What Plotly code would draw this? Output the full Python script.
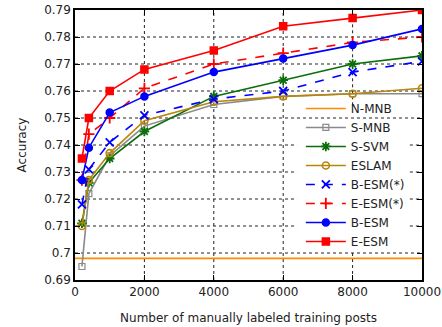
import plotly.graph_objects as go

x = [200, 400, 1000, 2000, 4000, 6000, 8000, 10000]
n_mnb_x = [0, 10000]
n_mnb = [0.698, 0.698]
s_mnb = [0.695, 0.722, 0.736, 0.747, 0.755, 0.758, 0.759, 0.759]
s_svm = [0.711, 0.726, 0.735, 0.745, 0.758, 0.764, 0.770, 0.773]
eslam = [0.710, 0.727, 0.737, 0.749, 0.756, 0.758, 0.759, 0.761]
b_esm_star = [0.718, 0.731, 0.741, 0.751, 0.757, 0.760, 0.767, 0.771]
e_esm_star = [0.727, 0.744, 0.750, 0.761, 0.770, 0.774, 0.778, 0.780]
b_esm = [0.727, 0.739, 0.752, 0.758, 0.767, 0.772, 0.777, 0.783]
e_esm = [0.735, 0.750, 0.760, 0.768, 0.775, 0.784, 0.787, 0.790]

x_ticks = [0, 2000, 4000, 6000, 8000, 10000]
y_ticks = [0.69, 0.70, 0.71, 0.72, 0.73, 0.74, 0.75, 0.76, 0.77, 0.78, 0.79]
y_labels = ["0.69", "0.7", "0.71", "0.72", "0.73", "0.74", "0.75", "0.76", "0.77", "0.78", "0.79"]

# region (data units) kept free of grid lines behind the legend
legend_x0, legend_x1 = 6400, 9650
legend_y0, legend_y1 = 0.7012, 0.7485

fig = go.Figure()

def add(name, xs, ys, color, symbol, dash="solid", size=7, msize_line=1.5, mode="lines+markers"):
    fig.add_trace(go.Scatter(
        x=xs, y=ys, name=name, mode=mode,
        line=dict(color=color, width=1.6, dash=dash),
        marker=dict(symbol=symbol, size=size, color=color,
                    line=dict(color=color, width=msize_line)),
    ))

add("N-MNB", n_mnb_x, n_mnb, "#ff8c00", "circle", mode="lines")
add("S-MNB", x, s_mnb, "#8a8a8a", "square-open", size=6, msize_line=1.2)
add("S-SVM", x, s_svm, "#0a6e0a", "asterisk-open", size=8, msize_line=1.8)
add("ESLAM", x, eslam, "#b8860b", "circle-open", size=7, msize_line=1.6)
add("B-ESM(*)", x, b_esm_star, "#0000ff", "x-thin-open", dash="dash", size=8, msize_line=1.8)
add("E-ESM(*)", x, e_esm_star, "#ff0000", "cross-thin-open", dash="dash", size=8, msize_line=1.8)
add("B-ESM", x, b_esm, "#0000ff", "circle", size=7)
add("E-ESM", x, e_esm, "#ff0000", "square", size=7)

# dotted grid drawn as shapes so it can skip the legend area
grid = dict(color="#222", width=1, dash="dot")
xmin, xmax = x_ticks[0], x_ticks[-1]
ymin, ymax = y_ticks[0], y_ticks[-1]
for yv in y_ticks[1:-1]:
    if legend_y0 <= yv <= legend_y1:
        segs = [(xmin, legend_x0), (legend_x1, xmax)]
    else:
        segs = [(xmin, xmax)]
    for a, b in segs:
        fig.add_shape(type="line", xref="x", yref="y", x0=a, x1=b, y0=yv, y1=yv,
                      line=grid, layer="below")
for xv in x_ticks[1:-1]:
    if legend_x0 <= xv <= legend_x1:
        segs = [(ymin, legend_y0 - 0.0012), (legend_y1 + 0.0062, ymax)]
    else:
        segs = [(ymin, ymax)]
    for a, b in segs:
        fig.add_shape(type="line", xref="x", yref="y", x0=xv, x1=xv, y0=a, y1=b,
                      line=grid, layer="below")

axis_common = dict(
    showline=True, linecolor="black", linewidth=1.5, mirror="ticks",
    ticks="inside", ticklen=5, tickcolor="black", automargin=False,
    showgrid=False, zeroline=False,
    tickfont=dict(family="DejaVu Sans", size=12, color="#222"),
)

fig.update_xaxes(
    range=[xmin, xmax], tickvals=x_ticks, ticktext=[str(v) for v in x_ticks],
    title=dict(text="Number of manually labeled training posts",
               font=dict(family="DejaVu Sans", size=12, color="#222")),
    **axis_common,
)
fig.update_yaxes(
    range=[ymin, ymax], tickvals=y_ticks, ticktext=y_labels,
    title=dict(text="Accuracy", font=dict(family="DejaVu Sans", size=12, color="#222")),
    **axis_common,
)

fig.update_layout(
    width=442, height=327,
    margin=dict(l=75, r=20, t=10, b=47),
    plot_bgcolor="white", paper_bgcolor="white",
    font=dict(family="DejaVu Sans", size=12, color="#222"),
    legend=dict(
        x=0.965, y=0.089, xanchor="right", yanchor="bottom",
        bgcolor="rgba(255,255,255,0)", borderwidth=0,
        font=dict(family="DejaVu Sans", size=12, color="#222"),
        itemwidth=40, tracegroupgap=0,
    ),
)

fig.write_html("out.html", config={"displayModeBar": False},
               post_script="document.body.style.margin='0';")
